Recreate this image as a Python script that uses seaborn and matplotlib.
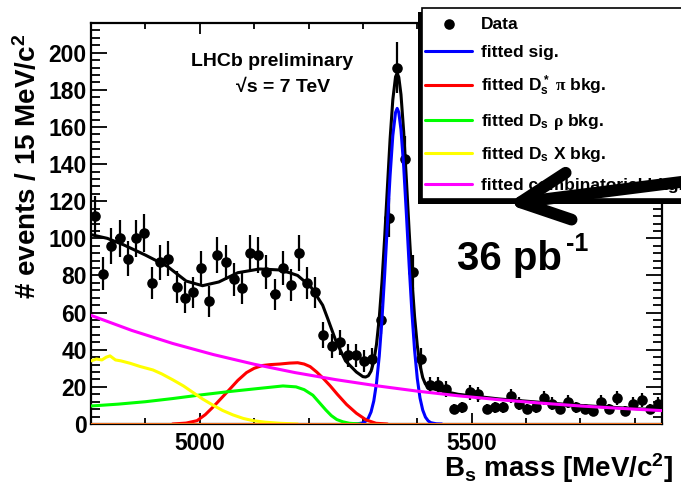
import numpy as np
import pandas as pd
import matplotlib
matplotlib.use("Agg")
import matplotlib.pyplot as plt
import seaborn as sns
from matplotlib.patches import Rectangle, FancyArrowPatch
from matplotlib.ticker import MultipleLocator

# ---------------- data ----------------
mass_min, mass_max, bin_width = 4800, 5850, 15

counts = [112, 81, 96, 100, 89, 100, 103, 76, 87, 89,
          74, 68, 71, 84, 66, 91, 87, 78, 73, 92,
          91, 82, 70, 84, 75, 92, 76, 71, 48, 42,
          44, 37, 37, 34, 35, 56, 111, 192, 143, 82,
          35, 21, 21, 19, 8, 9, 17, 16, 8, 9,
          9, 15, 11, 8, 9, 14, 11, 8, 12, 9,
          8, 7, 12, 8, 14, 7, 11, 13, 8, 11]

total_mass = [4800, 4830, 4860, 4900, 4940, 4975, 5005, 5035, 5070, 5110,
              5145, 5165, 5180, 5192, 5204, 5215, 5226, 5235, 5250, 5268,
              5288, 5300, 5305, 5310, 5315, 5320, 5325, 5330, 5335, 5340,
              5345, 5350, 5355, 5360, 5363, 5366, 5370, 5375, 5380, 5385,
              5390, 5395, 5400, 5405, 5410, 5415, 5420, 5425, 5435, 5450,
              5475, 5550, 5625, 5700, 5775, 5850]
total_vals = [102, 100, 96.5, 91, 85, 77, 74.5, 76.5, 81.5, 83.5,
              83, 81.5, 80, 77, 74, 69, 64, 57, 45, 34,
              28, 25.5, 25.3, 26, 28.5, 33.7, 42.9, 56.9, 76.3, 100.4,
              127.3, 153.5, 174.7, 187, 189, 186.8, 177.5, 157.4, 131.4, 104.1,
              78.8, 57.9, 42.3, 31.7, 25, 21.5, 20, 19.3, 18.5, 17.5,
              16, 13.5, 11.7, 10, 8.7, 7.5]

sig_mass = [5280, 5290, 5300, 5305, 5310, 5315, 5320, 5325, 5330, 5335,
            5340, 5345, 5350, 5355, 5360, 5363, 5366, 5370, 5375, 5380,
            5385, 5390, 5395, 5400, 5405, 5410, 5415, 5420, 5425, 5435, 5445]
sig_vals = [0, 0.1, 0.6, 1.5, 3.2, 6.5, 12.4, 22.0, 36.4, 56.1,
            80.4, 107.5, 133.9, 155.3, 167.8, 170, 167.8, 158.6, 138.7, 112.9,
            85.7, 60.6, 39.9, 24.5, 14.0, 7.5, 3.7, 1.7, 0.7, 0.1, 0]

red_mass = [4950, 4975, 4995, 5010, 5025, 5040, 5055, 5070, 5086, 5100,
            5115, 5130, 5147, 5165, 5180, 5192, 5203, 5215, 5227, 5240,
            5253, 5270, 5288, 5306, 5324, 5345]
red_vals = [0, 0.5, 1.8, 5, 9.3, 14, 18.7, 23.5, 27.7, 30,
            31.5, 32, 32.3, 32.8, 33, 32.3, 30.9, 28, 24.6, 20.5,
            16, 10.5, 5.8, 2.2, 0.4, 0]

green_mass = [4800, 4850, 4900, 4950, 5000, 5055, 5110, 5153, 5177, 5192,
              5208, 5220, 5232, 5242, 5252, 5263, 5275, 5295]
green_vals = [9.7, 10.7, 12, 13.7, 15.6, 17.5, 19.2, 20.5, 20, 18.5,
              15.5, 11.5, 7.5, 4.5, 2.4, 1.2, 0.4, 0]

yellow_mass = [4800, 4810, 4820, 4828, 4835, 4845, 4855, 4872, 4890, 4914,
               4930, 4951, 4970, 4988, 5005, 5024, 5042, 5061, 5080, 5098,
               5120, 5147, 5180]
yellow_vals = [34, 35, 34.5, 36, 36.7, 34.5, 34, 32.7, 31, 29.1,
               27, 23.7, 20.5, 16.9, 13.5, 10.2, 7.3, 4.9, 3, 1.8,
               1, 0.4, 0]

magenta_mass = [4800, 4875, 4950, 5025, 5100, 5175, 5250, 5325, 5400, 5475,
                5550, 5625, 5700, 5775, 5850]
magenta_vals = [58.5, 50.4, 43.4, 37.4, 32.2, 27.7, 23.9, 20.6, 17.7, 15.2,
                13.1, 11.3, 9.7, 8.4, 7.2]

orange_mass = [4800, 5850]
orange_vals = [0, 0]

legend_labels = ["Data", "fitted sig.",
                 r"fitted $\mathbf{D_s^*}$ $\mathrm{\pi}$ bkg.",
                 r"fitted $\mathbf{D_s}$ $\mathrm{\rho}$ bkg.",
                 r"fitted $\mathbf{D_s}$ X bkg.",
                 "fitted combinatorial bkg."]

# ---------------- style ----------------
sns.set_theme(style="ticks", rc={"axes.edgecolor": "black", "text.color": "black",
                                 "axes.labelcolor": "black", "xtick.color": "black",
                                 "ytick.color": "black"})
plt.rcParams["font.family"] = ["Liberation Sans", "DejaVu Sans"]
plt.rcParams["font.weight"] = "bold"
plt.rcParams["mathtext.fontset"] = "custom"
plt.rcParams["mathtext.bf"] = "Liberation Sans:bold"
plt.rcParams["mathtext.rm"] = "Liberation Serif"
plt.rcParams["mathtext.it"] = "Liberation Sans:italic:bold"
plt.rcParams["mathtext.sf"] = "Liberation Sans:bold"

W, H = 681, 491
fig = plt.figure(figsize=(W / 100, H / 100), dpi=100)
ax = fig.add_axes([91 / W, 1 - 424 / H, 571 / W, 401 / H])

centers = mass_min + bin_width / 2 + bin_width * np.arange(len(counts))
df = pd.DataFrame({"mass": centers, "events": counts})

ax.errorbar(df["mass"], df["events"], yerr=np.sqrt(df["events"]), xerr=bin_width / 2,
            fmt="none", ecolor="black", elinewidth=1.6, capsize=0, zorder=2,
            label="_nolegend_")
sns.scatterplot(data=df, x="mass", y="events", color="black", s=58, linewidth=0,
                zorder=3, ax=ax, label=legend_labels[0], legend=False)

lw = 2.2
curves = [
    (total_mass, total_vals, "black", "_nolegend_"),
    (sig_mass, sig_vals, "#0000ff", legend_labels[1]),
    (red_mass, red_vals, "#ff0000", legend_labels[2]),
    (green_mass, green_vals, "#00ff00", legend_labels[3]),
    (yellow_mass, yellow_vals, "#ffff00", legend_labels[4]),
    (magenta_mass, magenta_vals, "#ff00ff", legend_labels[5]),
    (orange_mass, orange_vals, "#f2711c", "_nolegend_"),
]
for i, (xm, yv, col, lab) in enumerate(curves):
    sns.lineplot(x=xm, y=yv, color=col, lw=lw, ax=ax, label=lab, legend=False,
                 sort=False, estimator=None, zorder=4 + i * 0.1)

if ax.get_legend() is not None:
    ax.get_legend().remove()

ax.set_xlim(mass_min, mass_max)
ax.set_ylim(0, 216)
ax.xaxis.set_major_locator(MultipleLocator(500))
ax.xaxis.set_minor_locator(MultipleLocator(100))
ax.yaxis.set_major_locator(MultipleLocator(20))
ax.yaxis.set_minor_locator(MultipleLocator(4))
ax.tick_params(which="both", direction="in", top=True, right=True, width=1.3,
               labelsize=16.5)
ax.tick_params(axis="x", which="major", length=8, pad=6)
ax.tick_params(axis="x", which="minor", length=4.5)
ax.tick_params(axis="y", which="major", length=11.5, pad=3)
ax.tick_params(axis="y", which="minor", length=6.5)
for lab in ax.get_xticklabels() + ax.get_yticklabels():
    lab.set_fontweight("bold")
for sp in ax.spines.values():
    sp.set_linewidth(1.6)
    sp.set_visible(True)

ax.set_xlabel(r"$\mathbf{B_s}$ mass [MeV/c$^{\mathbf{2}}$]", fontsize=20,
              fontweight="bold", ha="right")
ax.xaxis.set_label_coords((673 - 91) / 571, (424 - 451) / 401)
ax.set_ylabel(r"# events / 15 MeV/c$^{\mathbf{2}}$", fontsize=20, fontweight="bold")
ax.yaxis.set_label_coords(-0.086, 0.642)

# annotations
fig.text(272 / W, 1 - 62 / H, "LHCb preliminary", ha="center", va="center",
         fontsize=14, fontweight="bold")
fig.text(283 / W, 1 - 88 / H, "\u221as = 7 TeV", ha="center", va="center",
         fontsize=14, fontweight="bold")
fig.text(457 / W, 1 - 270 / H, "36 pb", ha="left", va="baseline",
         fontsize=29, fontweight="bold")
fig.text(566 / W, 1 - 251 / H, "-1", ha="left", va="baseline",
         fontsize=18, fontweight="bold")

# legend box with ROOT-like shadow
fig.patches.append(Rectangle((418 / W, 1 - 204 / H), 300 / W, (204 - 12) / H,
                             transform=fig.transFigure, facecolor="black",
                             edgecolor="none", zorder=3.5))
fig.patches.append(Rectangle((422 / W, 1 - 199 / H), 300 / W, (199 - 8) / H,
                             transform=fig.transFigure, facecolor="white",
                             edgecolor="black", lw=1.2, zorder=3.6))
handles, labels = ax.get_legend_handles_labels()
order = [labels.index(l) for l in legend_labels if l in labels]
fig.legend([handles[i] for i in order], [labels[i] for i in order],
           loc="upper left", bbox_to_anchor=(422 / W, 1 - 13 / H), frameon=False,
           prop={"weight": "bold", "size": 12.5}, handlelength=2.7,
           handletextpad=0.5, labelspacing=0.78, borderpad=0.2, borderaxespad=0)

# big hand-drawn-like arrow
arrow = FancyArrowPatch((720 / W, 1 - 177 / H), (507 / W, 1 - 204 / H),
                        transform=fig.transFigure,
                        arrowstyle="->,head_length=0.35,head_width=0.17",
                        mutation_scale=100, lw=8.5, color="black",
                        capstyle="round", joinstyle="round",
                        shrinkA=0, shrinkB=0, zorder=10)
fig.add_artist(arrow)

fig.savefig("out.png", dpi=100)
